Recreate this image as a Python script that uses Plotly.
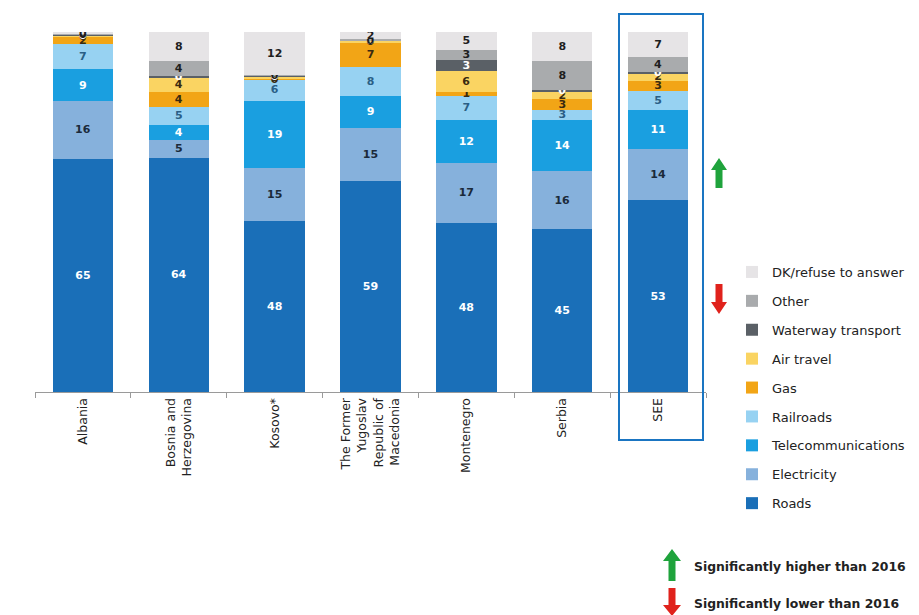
import plotly.graph_objects as go

countries = ['Albania', 'Bosnia and<br>Herzegovina', 'Kosovo*',
             'The Former<br>Yugoslav<br>Republic of<br>Macedonia',
             'Montenegro', 'Serbia', 'SEE']

roads = [65, 64, 48, 59, 48, 45, 53]
electricity = [16, 5, 15, 15, 17, 16, 14]
telecom = [9, 4, 19, 9, 12, 14, 11]
railroads = [7, 5, 6, 8, 7, 3, 5]
gas = [2, 4, 0.3, 7, 1, 3, 3]
air_travel = [0.3, 4, 0.4, 0.4, 6, 2, 2]
waterway = [0.4, 0.4, 0.3, 0.2, 3, 0.4, 0.4]
other = [0.3, 4, 0.3, 0.3, 3, 8, 4]
dk = [0.3, 8, 12, 2, 5, 8, 7]

series = [
    ('Roads', roads, '#1a6fb8', 'white'),
    ('Electricity', electricity, '#86b1dc', '#1b2a3a'),
    ('Telecommunications', telecom, '#1a9fe0', 'white'),
    ('Railroads', railroads, '#97d2f2', '#2a5f86'),
    ('Gas', gas, '#f2a516', '#3a2a10'),
    ('Air travel', air_travel, '#fad462', '#3a2a10'),
    ('Waterway transport', waterway, '#5a6066', 'white'),
    ('Other', other, '#a9abad', '#1e1e1e'),
    ('DK/refuse to answer', dk, '#e6e4e6', '#1e1e1e'),
]

FONT = 'DejaVu Sans'

fig = go.Figure()
for i, (name, vals, color, tcolor) in enumerate(series):
    fig.add_trace(go.Bar(
        x=countries, y=vals, name=name,
        marker=dict(color=color, line=dict(width=0)),
        text=[str(round(v)) for v in vals],
        texttemplate='%{text}',
        textposition='inside', insidetextanchor='middle',
        textangle=0, constraintext='none',
        textfont=dict(color=tcolor, size=11, family=FONT, weight='bold'),
        legendgroup=name, legendrank=len(series) - i,
        hoverinfo='name+y',
    ))

# page body has an 8px margin, so work in screen pixels shifted by 8
OFF = 8
L, R, T, B = 35 - OFF, 706 - OFF, 32 - OFF, 392 - OFF
W, H = 919 - OFF, 615 - OFF


def px(x, y):
    return (x - OFF - L) / (R - L), (B - (y - OFF)) / (B - T)


def arrow(cx, cy, color, up=True, h=15, hw=8, sw=3.5, hh=12):
    ax, ay = px(cx, cy)
    s = 1 if up else -1
    pts = [(0, s * h), (hw, s * (h - hh)), (sw, s * (h - hh)), (sw, -s * h),
           (-sw, -s * h), (-sw, s * (h - hh)), (-hw, s * (h - hh))]
    path = 'M ' + ' L '.join(f'{a},{b}' for a, b in pts) + ' Z'
    return dict(type='path', xref='paper', yref='paper',
                xsizemode='pixel', ysizemode='pixel',
                xanchor=ax, yanchor=ay, path=path,
                fillcolor=color, line=dict(width=0))


bx0, by0 = px(619, 440)
bx1, by1 = px(703, 14)
shapes = [
    dict(type='rect', xref='paper', yref='paper', x0=bx0, x1=bx1, y0=by0, y1=by1,
         line=dict(color='#1a75c2', width=2), fillcolor='rgba(0,0,0,0)'),
    arrow(719, 173, '#1fa33c', up=True),
    arrow(719, 299, '#e0221c', up=False),
    arrow(672, 565, '#1fa33c', up=True, h=16, hw=9, sw=3.5, hh=12),
    arrow(672, 602, '#e0221c', up=False, h=14, hw=9, sw=3.5, hh=11),
]

t1x, t1y = px(692, 566)
t2x, t2y = px(692, 603)
note_font = dict(family=FONT, size=12.4, color='#222', weight='bold')
annotations = [
    dict(text='Significantly higher than 2016', x=t1x, y=t1y, xref='paper', yref='paper',
         xanchor='left', yanchor='middle', showarrow=False, font=note_font),
    dict(text='Significantly lower than 2016', x=t2x, y=t2y, xref='paper', yref='paper',
         xanchor='left', yanchor='middle', showarrow=False, font=note_font),
]

lx, ly = px(732, 257)
fig.update_layout(
    width=W, height=H,
    barmode='stack', barnorm='percent', bargap=0.37,
    plot_bgcolor='white', paper_bgcolor='white',
    margin=dict(l=L, r=W - R, t=T, b=H - B, autoexpand=False),
    font=dict(family=FONT, color='#222'),
    showlegend=True,
    legend=dict(x=lx, y=ly, xanchor='left', yanchor='top',
                traceorder='grouped', tracegroupgap=9,
                font=dict(size=13, color='#222', family=FONT),
                bgcolor='rgba(0,0,0,0)', itemwidth=30),
    xaxis=dict(tickangle=-90, showline=True, linecolor='#9a9a9a', linewidth=1,
               ticks='outside', tickson='boundaries', ticklen=5, tickcolor='#9a9a9a',
               tickfont=dict(size=12.5, color='#222', family=FONT)),
    yaxis=dict(visible=False, range=[0, 100]),
    shapes=shapes,
    annotations=annotations,
)

fig.write_html('out.html')
